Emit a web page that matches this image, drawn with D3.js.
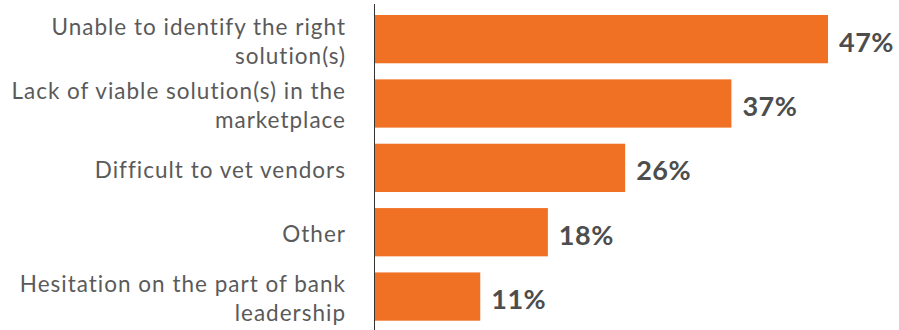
<!DOCTYPE html>
<html>
<head>
<meta charset="utf-8">
<script src="https://cdn.jsdelivr.net/npm/d3@7"></script>
<style>
  html, body { margin: 0; padding: 0; background: #fff; }
  svg { display: block; }
</style>
</head>
<body>
<svg id="chart" width="899" height="330"></svg>
<script>
// Barriers to adoption: share of respondents
const categories = [
  "Unable to identify the right solution(s)",
  "Lack of viable solution(s) in the marketplace",
  "Difficult to vet vendors",
  "Other",
  "Hesitation on the part of bank leadership"
];
const labelLines = [
  ["Unable to identify the right", "solution(s)"],
  ["Lack of viable solution(s) in the", "marketplace"],
  ["Difficult to vet vendors"],
  ["Other"],
  ["Hesitation on the part of bank", "leadership"]
];
const values = [47, 37, 26, 18, 11];

const svg = d3.select("#chart");
const axisX = 374;

const x = d3.scaleLinear().domain([0, 47]).range([axisX, 828]);
const y = d3.scaleBand().domain(categories).range([15, 320.7]).paddingInner(0.25).paddingOuter(0);

// bars
svg.selectAll("rect.bar")
  .data(values)
  .join("rect")
  .attr("class", "bar")
  .attr("x", x(0))
  .attr("y", (d, i) => y(categories[i]))
  .attr("width", d => x(d) - x(0))
  .attr("height", y.bandwidth())
  .attr("fill", "#f07124");

// vertical baseline
svg.append("line")
  .attr("x1", axisX + 0.5).attr("x2", axisX + 0.5)
  .attr("y1", 4).attr("y2", 330)
  .attr("stroke", "#333").attr("stroke-width", 1);

// category labels
const lineGap = 29;
const cat = svg.selectAll("text.cat")
  .data(labelLines)
  .join("text")
  .attr("class", "cat")
  .attr("text-anchor", "end")
  .attr("font-family", "Lato, 'Open Sans', sans-serif")
  .attr("font-size", 22.5)
  .attr("letter-spacing", 1)
  .attr("fill", "#5a5a5a")
  .attr("x", 345);

cat.each(function (lines, i) {
  const cy = y(categories[i]) + y.bandwidth() / 2 + 1.5;
  const start = cy - (lines.length - 1) * lineGap / 2;
  d3.select(this).selectAll("tspan")
    .data(lines)
    .join("tspan")
    .attr("x", 346)
    .attr("y", (l, j) => start + j * lineGap)
    .attr("dominant-baseline", "central")
    .text(l => l);
});

// value labels
svg.selectAll("text.val")
  .data(values)
  .join("text")
  .attr("class", "val")
  .attr("x", d => x(d) + 11)
  .attr("y", (d, i) => y(categories[i]) + y.bandwidth() / 2 + 2)
  .attr("dominant-baseline", "central")
  .attr("font-family", "Lato, 'Open Sans', sans-serif")
  .attr("font-weight", "bold")
  .attr("font-size", 27)
  .attr("letter-spacing", 0.5)
  .attr("fill", "#4d4d4d")
  .text(d => d + "%");
</script>
</body>
</html>
